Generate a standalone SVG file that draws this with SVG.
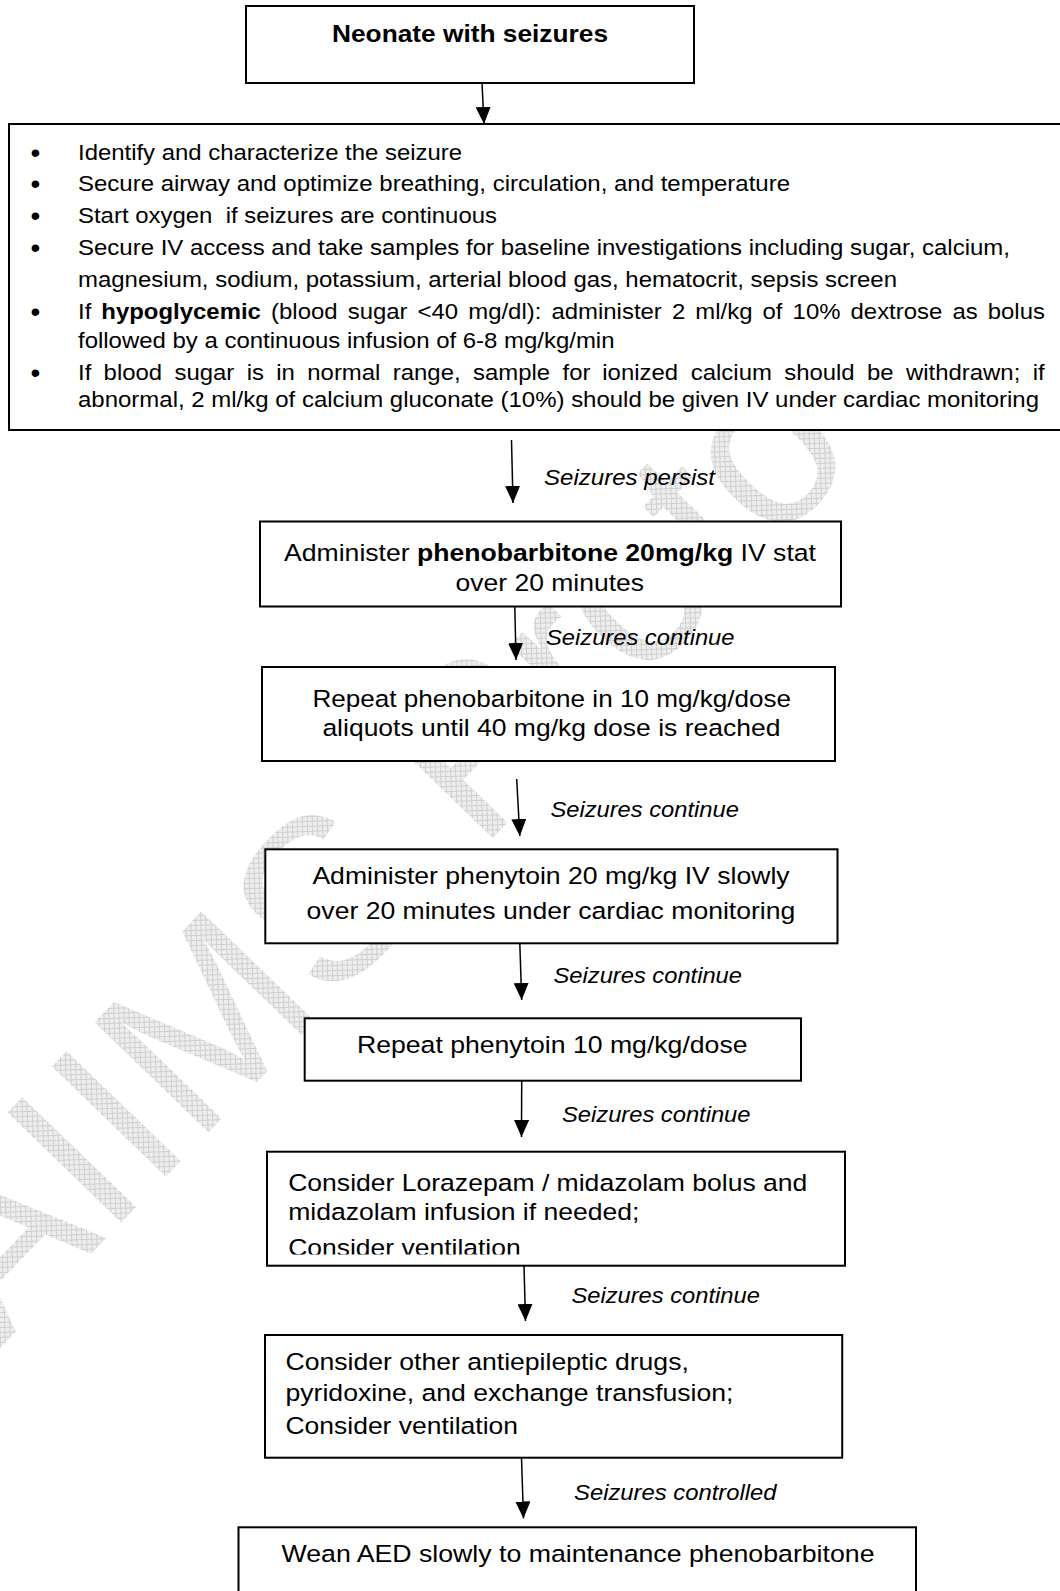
<svg xmlns="http://www.w3.org/2000/svg" width="1060" height="1591" viewBox="0 0 1060 1591">
<defs>
<style>
.box{fill:#fff;stroke:#000;stroke-width:2}
.t{font-family:"Liberation Sans",Arial,sans-serif;fill:#000}
.b{font-size:22px}
.bul{font-size:28px}
.f{font-size:24.5px}
.lab{font-size:22px;font-style:italic}
.bold{font-weight:bold}
.con{stroke:#000;stroke-width:1.5;fill:none;marker-end:url(#ah)}
.wm{font-family:"Liberation Sans",Arial,sans-serif;font-size:230px;fill:url(#grid)}
</style>
<marker id="ah" markerUnits="userSpaceOnUse" viewBox="0 0 17 15" markerWidth="17" markerHeight="15" refX="17" refY="7.5" orient="auto">
<path d="M0,0 L17,7.5 L0,15 z" fill="#000"/>
</marker>
<pattern id="grid" patternUnits="userSpaceOnUse" width="5" height="5" patternTransform="rotate(-46)">
<rect width="5" height="5" fill="#eeeeee"/>
<path d="M0,0.5 H5 M0.5,0 V5" stroke="#cfcfcf" stroke-width="1"/>
</pattern>
<clipPath id="clip7"><rect x="267" y="1151" width="578" height="103.5"/></clipPath>
<clipPath id="wmclip"><rect x="0" y="124" width="1060" height="1467"/></clipPath>
</defs>
<rect width="1060" height="1591" fill="#fff"/>

<g id="watermark" clip-path="url(#wmclip)">
<text class="wm" transform="translate(0,1348) rotate(-46)">AIIMS Protocols</text>
</g>

<g id="connectors">
<line class="con" x1="482" y1="83" x2="484" y2="124"/>
<line class="con" x1="511.5" y1="440" x2="513" y2="503"/>
<line class="con" x1="514.8" y1="607" x2="516" y2="660"/>
<line class="con" x1="516.7" y1="779" x2="519.8" y2="836"/>
<line class="con" x1="519.8" y1="943.5" x2="521.7" y2="1000"/>
<line class="con" x1="521.7" y1="1081" x2="521.5" y2="1137"/>
<line class="con" x1="524" y1="1266" x2="525.5" y2="1321"/>
<line class="con" x1="521.5" y1="1458" x2="523.5" y2="1518.5"/>
<text class="t lab" x="544" y="485" textLength="171" lengthAdjust="spacingAndGlyphs">Seizures persist</text>
<text class="t lab" x="546" y="645" textLength="188.5" lengthAdjust="spacingAndGlyphs">Seizures continue</text>
<text class="t lab" x="550.4" y="816.7" textLength="188.5" lengthAdjust="spacingAndGlyphs">Seizures continue</text>
<text class="t lab" x="553.5" y="983.3" textLength="188.5" lengthAdjust="spacingAndGlyphs">Seizures continue</text>
<text class="t lab" x="562" y="1122" textLength="188.5" lengthAdjust="spacingAndGlyphs">Seizures continue</text>
<text class="t lab" x="571.4" y="1303.3" textLength="188.5" lengthAdjust="spacingAndGlyphs">Seizures continue</text>
<text class="t lab" x="574" y="1500" textLength="202.6" lengthAdjust="spacingAndGlyphs">Seizures controlled</text>
</g>

<g id="node-start">
<rect class="box" x="246" y="6" width="448" height="77"/>
<text class="t bold" style="font-size:24px" x="332" y="42" textLength="276" lengthAdjust="spacingAndGlyphs">Neonate with seizures</text>
</g>

<g id="node-initial">
<rect class="box" x="9" y="124" width="1060" height="306"/>
<g class="t bul">
<text x="30.5" y="162">•</text>
<text x="30.5" y="193">•</text>
<text x="30.5" y="225">•</text>
<text x="30.5" y="257">•</text>
<text x="30.5" y="321">•</text>
<text x="30.5" y="382">•</text>
</g>
<g class="t b">
<text x="78" y="160" textLength="384" lengthAdjust="spacingAndGlyphs">Identify and characterize the seizure</text>
<text x="78" y="191" textLength="712" lengthAdjust="spacingAndGlyphs">Secure airway and optimize breathing, circulation, and temperature</text>
<text x="78" y="223" textLength="419" lengthAdjust="spacingAndGlyphs" xml:space="preserve">Start oxygen  if seizures are continuous</text>
<text x="78" y="255" textLength="932" lengthAdjust="spacingAndGlyphs">Secure IV access and take samples for baseline investigations including sugar, calcium,</text>
<text x="78" y="287" textLength="819" lengthAdjust="spacingAndGlyphs">magnesium, sodium, potassium, arterial blood gas, hematocrit, sepsis screen</text>
<text transform="scale(1.088,1)" y="319"><tspan x="71.69">If</tspan><tspan x="93.17" font-weight="bold">hypoglycemic</tspan><tspan x="249.15">(blood</tspan><tspan x="319.55">sugar</tspan><tspan x="383.82">&lt;40</tspan><tspan x="430.39">mg/dl):</tspan><tspan x="506.88">administer</tspan><tspan x="617.6">2</tspan><tspan x="639.08">ml/kg</tspan><tspan x="700.89">of</tspan><tspan x="728.49">10%</tspan><tspan x="781.76">dextrose</tspan><tspan x="875.4">as</tspan><tspan x="907.88">bolus</tspan></text>
<text x="78" y="348" textLength="536.5" lengthAdjust="spacingAndGlyphs">followed by a continuous infusion of 6-8 mg/kg/min</text>
<text transform="scale(1.088,1)" y="380"><tspan x="71.69">If</tspan><tspan x="95.22">blood</tspan><tspan x="160.39">sugar</tspan><tspan x="226.75">is</tspan><tspan x="253.95">in</tspan><tspan x="282.44">normal</tspan><tspan x="361.03">range,</tspan><tspan x="434.74">sample</tspan><tspan x="517">for</tspan><tspan x="553.58">ionized</tspan><tspan x="634.93">calcium</tspan><tspan x="720.77">should</tspan><tspan x="796.88">be</tspan><tspan x="832.72">withdrawn;</tspan><tspan x="949.17">if</tspan></text>
<text x="78" y="407" textLength="961" lengthAdjust="spacingAndGlyphs">abnormal, 2 ml/kg of calcium gluconate (10%) should be given IV under cardiac monitoring</text>
</g>
</g>

<g id="node-pheno20">
<rect class="box" x="260" y="521.5" width="581" height="85"/>
<text class="t f" x="284" y="560.7" textLength="532" lengthAdjust="spacingAndGlyphs">Administer <tspan font-weight="bold">phenobarbitone 20mg/kg</tspan> IV stat</text>
<text class="t f" x="455.5" y="590.7" textLength="188.5" lengthAdjust="spacingAndGlyphs">over 20 minutes</text>
</g>

<g id="node-pheno10">
<rect class="box" x="262" y="667" width="573" height="94"/>
<text class="t f" x="312.5" y="706.7" textLength="478.5" lengthAdjust="spacingAndGlyphs">Repeat phenobarbitone in 10 mg/kg/dose</text>
<text class="t f" x="322.4" y="736" textLength="458" lengthAdjust="spacingAndGlyphs">aliquots until 40 mg/kg dose is reached</text>
</g>

<g id="node-phenytoin20">
<rect class="box" x="265.3" y="849.3" width="572.2" height="94"/>
<text class="t f" x="312.4" y="884" textLength="477.2" lengthAdjust="spacingAndGlyphs">Administer phenytoin 20 mg/kg IV slowly</text>
<text class="t f" x="306.6" y="918.5" textLength="488.7" lengthAdjust="spacingAndGlyphs">over 20 minutes under cardiac monitoring</text>
</g>

<g id="node-phenytoin10">
<rect class="box" x="304.7" y="1018.3" width="496.3" height="62.4"/>
<text class="t f" x="357" y="1053.3" textLength="390.5" lengthAdjust="spacingAndGlyphs">Repeat phenytoin 10 mg/kg/dose</text>
</g>

<g id="node-benzo">
<rect class="box" x="267" y="1151.7" width="578" height="114"/>
<text class="t f" x="288.2" y="1190.7" textLength="519.2" lengthAdjust="spacingAndGlyphs">Consider Lorazepam / midazolam bolus and</text>
<text class="t f" x="288.2" y="1220" textLength="351.2" lengthAdjust="spacingAndGlyphs">midazolam infusion if needed;</text>
<text class="t f" x="288.2" y="1256" textLength="232.5" lengthAdjust="spacingAndGlyphs" clip-path="url(#clip7)">Consider ventilation</text>
</g>

<g id="node-other">
<rect class="box" x="265" y="1335" width="577.2" height="122.7"/>
<text class="t f" x="285.5" y="1370" textLength="403.3" lengthAdjust="spacingAndGlyphs">Consider other antiepileptic drugs,</text>
<text class="t f" x="285.5" y="1401" textLength="448" lengthAdjust="spacingAndGlyphs">pyridoxine, and exchange transfusion;</text>
<text class="t f" x="285.5" y="1434" textLength="232.5" lengthAdjust="spacingAndGlyphs">Consider ventilation</text>
</g>

<g id="node-wean">
<rect class="box" x="238.5" y="1527.3" width="677.5" height="100"/>
<text class="t f" x="281.5" y="1561.7" textLength="593" lengthAdjust="spacingAndGlyphs">Wean AED slowly to maintenance phenobarbitone</text>
</g>
</svg>
